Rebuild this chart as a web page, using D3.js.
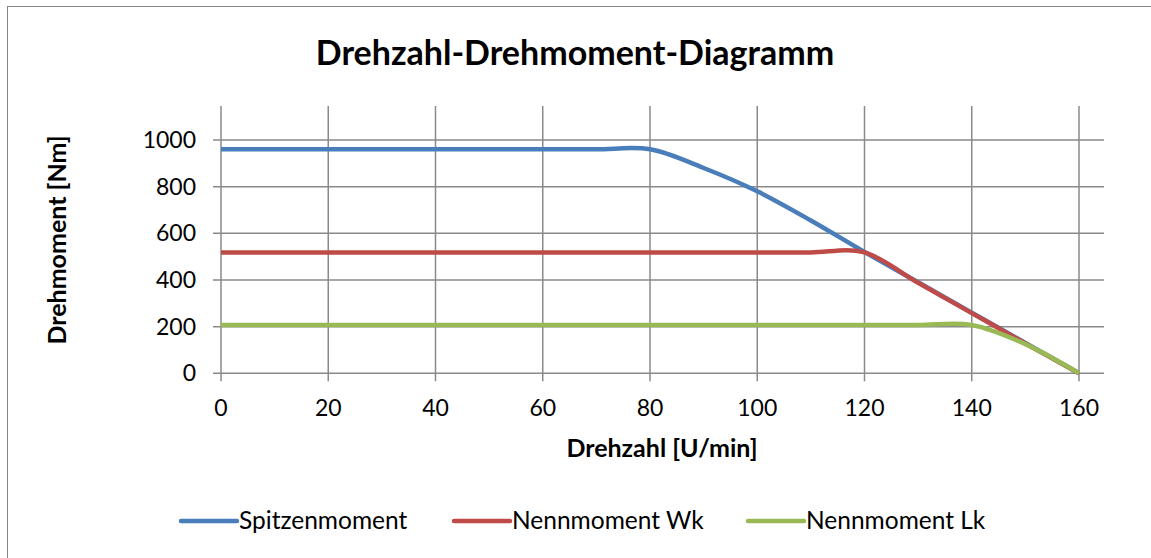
<!DOCTYPE html>
<html lang="de">
<head>
<meta charset="UTF-8">
<title>Drehzahl-Drehmoment-Diagramm</title>
<script src="https://cdnjs.cloudflare.com/ajax/libs/d3/7.8.5/d3.min.js"></script>
<style>
  body { margin: 0; background: #fff; }
  text { font-family: Lato, "Open Sans", sans-serif; fill: #000; }
</style>
</head>
<body>
<div id="chart"></div>
<script>
// Daten
const drehzahl = [0, 10, 20, 30, 40, 50, 60, 70, 80, 90, 100, 110, 120, 130, 140, 150, 160];
const spitzenmoment = [960, 960, 960, 960, 960, 960, 960, 960, 960, 880, 780, 655, 520, 390, 260, 130, 0];
const nennmomentWk = [518, 518, 518, 518, 518, 518, 518, 518, 518, 518, 518, 518, 518, 388, 258, 128, 0];
const nennmomentLk = [207, 207, 207, 207, 207, 207, 207, 207, 207, 207, 207, 207, 207, 207, 207, 125, 0];
const xTicks = [0, 20, 40, 60, 80, 100, 120, 140, 160];
const yTicks = [0, 200, 400, 600, 800, 1000];
const seriesNames = ['Spitzenmoment', 'Nennmoment Wk', 'Nennmoment Lk'];
const seriesColors = ['#4a7ebb', '#be4b48', '#98b954'];

const width = 1151;
const height = 558;

const svg = d3.select('#chart')
    .append('svg')
    .attr('width', width)
    .attr('height', height);

// Rahmen
svg.append('rect')
    .attr('x', 7.5).attr('y', 6.5)
    .attr('width', width + 20).attr('height', height + 20)
    .attr('fill', 'none')
    .attr('stroke', '#868686')
    .attr('stroke-width', 1);

const x = d3.scaleLinear().domain([0, 160]).range([221, 1079]);
const y = d3.scaleLinear().domain([0, 1000]).range([373.3, 140]);
const plotRight = 1104;
const plotTop = 106;

// Gitter
const grid = svg.append('g').attr('stroke', '#8a8a8a').attr('stroke-width', 1.5);
grid.selectAll('.h').data(yTicks).enter().append('line')
    .attr('x1', x(0) - 8).attr('x2', plotRight)
    .attr('y1', d => y(d)).attr('y2', d => y(d));
grid.selectAll('.v').data(xTicks).enter().append('line')
    .attr('x1', d => x(d)).attr('x2', d => x(d))
    .attr('y1', plotTop).attr('y2', y(0) + 8);

// Achsen-Beschriftungen
svg.append('g').selectAll('text').data(yTicks).enter().append('text')
    .attr('x', 196).attr('y', d => y(d) + 8)
    .attr('text-anchor', 'end')
    .style('font-size', '23px')
    .text(d => d);

svg.append('g').selectAll('text').data(xTicks).enter().append('text')
    .attr('x', d => x(d)).attr('y', 416)
    .attr('text-anchor', 'middle')
    .style('font-size', '23px')
    .text(d => d);

// Linien
const line = d3.line()
    .x((d, i) => x(drehzahl[i]))
    .y(d => y(d))
    .curve(d3.curveCardinal.tension(0));

[spitzenmoment, nennmomentWk, nennmomentLk].forEach((s, i) => {
    svg.append('path')
        .datum(s)
        .attr('fill', 'none')
        .attr('stroke', seriesColors[i])
        .attr('stroke-width', 4.5)
        .attr('stroke-linejoin', 'round')
        .attr('d', line);
});

// Titel
svg.append('text')
    .attr('x', 575).attr('y', 65)
    .attr('text-anchor', 'middle')
    .style('font-size', '34px')
    .style('font-weight', 'bold')
    .text('Drehzahl-Drehmoment-Diagramm');

svg.append('text')
    .attr('x', 662).attr('y', 457)
    .attr('text-anchor', 'middle')
    .style('font-size', '25px')
    .style('font-weight', 'bold')
    .text('Drehzahl [U/min]');

svg.append('text')
    .attr('transform', 'translate(66,240) rotate(-90)')
    .attr('text-anchor', 'middle')
    .style('font-size', '25px')
    .style('font-weight', 'bold')
    .text('Drehmoment [Nm]');

// Legende
const legendX = [181, 454, 748];
const legend = svg.append('g');
seriesNames.forEach((name, i) => {
    legend.append('line')
        .attr('x1', legendX[i]).attr('x2', legendX[i] + 56)
        .attr('y1', 521).attr('y2', 521)
        .attr('stroke', seriesColors[i])
        .attr('stroke-width', 4.5)
        .attr('stroke-linecap', 'round');
    legend.append('text')
        .attr('x', legendX[i] + 58).attr('y', 529)
        .style('font-size', '24.5px')
        .text(name);
});
</script>
</body>
</html>
